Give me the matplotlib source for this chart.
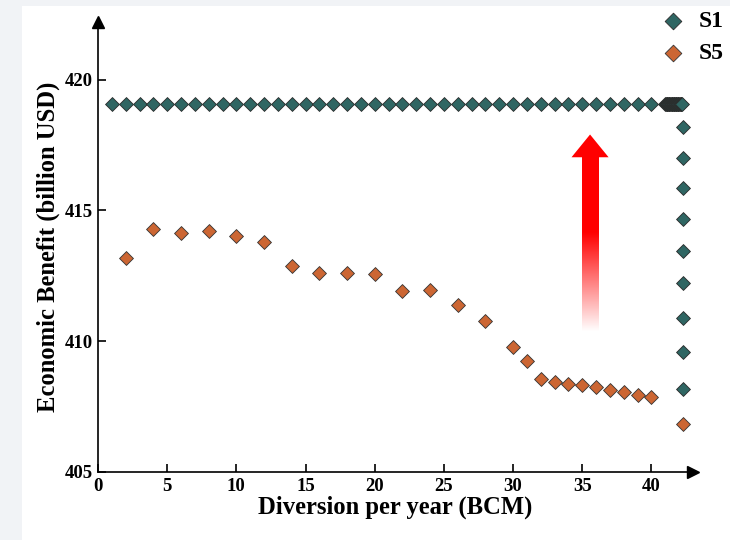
import numpy as np
import matplotlib
matplotlib.use('Agg')
import matplotlib.pyplot as plt
from matplotlib.patches import Rectangle, Polygon

# S1: flat benefit, then a dense tail and a vertical drop at the end
s1_x = list(range(1, 42)) + [41.05, 41.1, 41.15, 41.2, 41.25, 41.3, 41.35, 41.4,
                             41.45, 41.5, 41.55, 41.6, 41.65, 41.7, 41.75, 41.8,
                             41.85, 41.9, 41.95, 42.0, 42.05, 42.1, 42.15, 42.2]
s1_y = [419.05] * len(s1_x)
s1_drop_x = [42.25] * 9
s1_drop_y = [418.18, 417.01, 415.85, 414.67, 413.45, 412.23, 410.90, 409.58, 408.19]

# S5
s5_x = [2, 4, 6, 8, 10, 12, 14, 16, 18, 20, 22, 24, 26, 28, 30, 31,
        32, 33, 34, 35, 36, 37, 38, 39, 40, 42.25]
s5_y = [413.18, 414.30, 414.13, 414.20, 414.03, 413.79, 412.87, 412.60,
        412.60, 412.58, 411.90, 411.96, 411.40, 410.79, 409.76, 409.26,
        408.55, 408.44, 408.37, 408.31, 408.23, 408.12, 408.04, 407.95,
        407.85, 406.82]

teal = '#2f6663'
orange = '#cc6633'

plt.rcParams['font.family'] = ['Liberation Serif', 'DejaVu Serif']
plt.rcParams['font.weight'] = 'bold'

fig = plt.figure(figsize=(7.3, 5.4), dpi=100, facecolor='#f1f3f6')
fig.add_artist(Rectangle((22 / 730, 0), 1, 534 / 540, transform=fig.transFigure,
                         facecolor='white', edgecolor='none', zorder=-1))

ax = fig.add_axes([98 / 730, 68 / 540, 595 / 730, 450 / 540])
ax.set_facecolor('none')

ax.scatter(s1_x + s1_drop_x, s1_y + s1_drop_y, marker='D', s=50, color=teal,
           edgecolor='#2a2a2a', linewidth=0.6, label='S1', zorder=3, clip_on=False)
ax.scatter(s5_x, s5_y, marker='D', s=50, color=orange,
           edgecolor='#333333', linewidth=0.6, label='S5', zorder=3, clip_on=False)

# red gradient arrow
grad = np.zeros((200, 1, 4))
grad[..., 0] = 1.0
yy = np.linspace(410.34, 417.03, 200)
grad[:, 0, 3] = np.interp(yy, [410.34, 414.12], [0.0, 1.0])
ax.imshow(grad, extent=[34.95, 36.15, 410.34, 417.03], origin='lower',
          aspect='auto', interpolation='bilinear', zorder=2)
ax.add_patch(Polygon([[34.22, 417.03], [36.9, 417.03], [35.56, 417.9]],
                     closed=True, facecolor='red', edgecolor='none', zorder=2))

ax.set_xlim(0, 43)
ax.set_ylim(405, 422.2)
ax.set_xticks([0, 5, 10, 15, 20, 25, 30, 35, 40])
ax.set_yticks([405, 410, 415, 420])
ax.tick_params(direction='in', length=6, width=1.2, labelsize=13.5, pad=4)
for lab in ax.get_xticklabels() + ax.get_yticklabels():
    lab.set_fontweight('bold')

for side in ['top', 'right']:
    ax.spines[side].set_visible(False)
for side in ['left', 'bottom']:
    ax.spines[side].set_linewidth(1.2)

ax.plot(1, 0, '>k', ms=8, transform=ax.transAxes, clip_on=False)
ax.plot(0, 1, '^k', ms=8, transform=ax.transAxes, clip_on=False)

ax.set_xlabel('Diversion per year (BCM)', fontsize=17.7, fontweight='bold', labelpad=1)
ax.set_ylabel('Economic Benefit (billion USD)', fontsize=17.7, fontweight='bold', labelpad=3)

ax.legend(loc='upper left', bbox_to_anchor=(654 / 730, 0.994), bbox_transform=fig.transFigure,
          frameon=False, handlelength=1.0, handletextpad=0.6, labelspacing=0.45,
          borderaxespad=0.1, borderpad=0.2, markerscale=1.2,
          prop={'weight': 'bold', 'size': 17})

fig.savefig('out.png', dpi=100, facecolor=fig.get_facecolor())
